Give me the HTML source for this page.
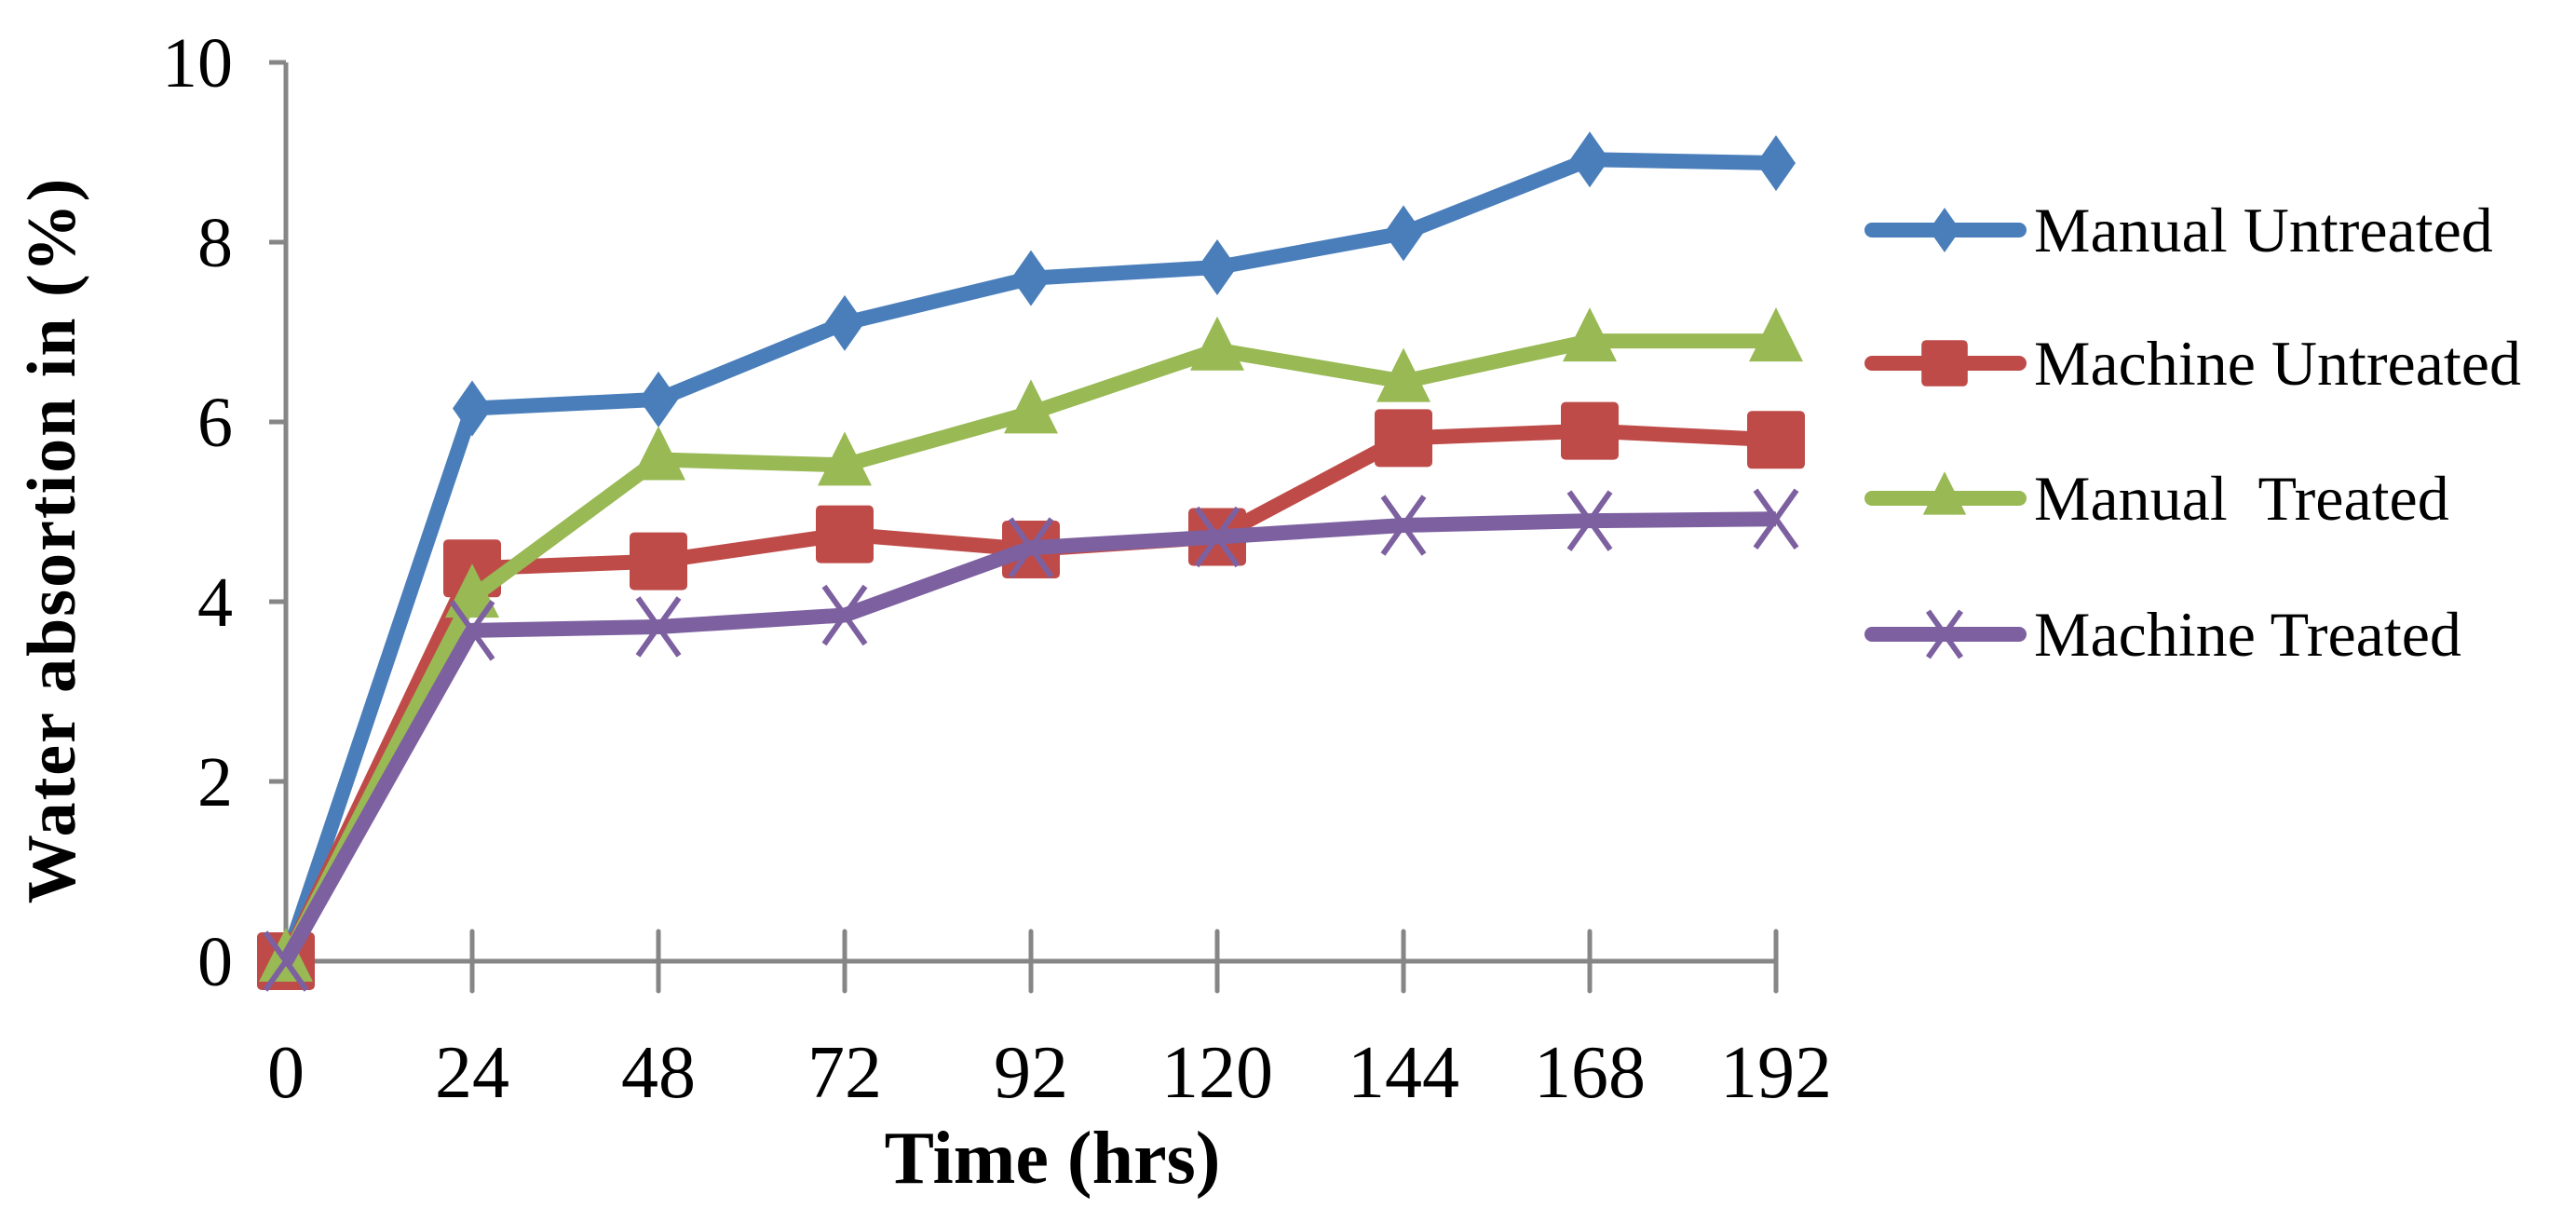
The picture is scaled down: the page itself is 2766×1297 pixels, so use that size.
<!DOCTYPE html>
<html><head><meta charset="utf-8"><style>
html,body{margin:0;padding:0;background:#fff;}
svg{display:block;font-family:"Liberation Serif",serif;}
</style></head><body>
<svg id="chart" width="2766" height="1297" viewBox="0 0 2766 1297">
<g id="axes"></g>
<g id="series"></g>
<g id="legend"></g>
<text x="80" y="580" font-size="74" font-weight="bold" text-anchor="middle" transform="rotate(-90 80 580)" letter-spacing="2">Water absortion in (%)</text>
<text x="1130" y="1270" font-size="80" font-weight="bold" text-anchor="middle">Time (hrs)</text>
</svg>
<script>
const categories = ["0","24","48","72","92","120","144","168","192"];
const yTicks = [0,2,4,6,8,10];
const seriesNames = ["Manual Untreated","Machine Untreated","Manual  Treated","Machine Treated"];
const manualUntreated = [0,6.15,6.25,7.1,7.6,7.72,8.1,8.92,8.88];
const machineUntreated = [0,4.37,4.45,4.75,4.58,4.72,5.82,5.9,5.8];
const manualTreated = [0,4.05,5.58,5.52,6.1,6.8,6.45,6.9,6.9];
const machineTreated = [0,3.68,3.72,3.85,4.6,4.72,4.85,4.9,4.92];

const NS="http://www.w3.org/2000/svg";
const X0=307, XSTEP=200, Y0=1032, YTOP=67, YMAX=10;
const xs=i=>X0+i*XSTEP;
const ys=v=>Y0-(v/YMAX)*(Y0-YTOP);
function mk(tag,attrs,parent){const e=document.createElementNS(NS,tag);for(const k in attrs)e.setAttribute(k,attrs[k]);parent.appendChild(e);return e;}
const axes=document.getElementById('axes');
const AX="#868686";
let e=mk('line',{x1:X0,y1:YTOP,x2:X0,y2:Y0,stroke:AX,'stroke-width':5},axes);


e=mk('line',{x1:X0,y1:Y0,x2:xs(categories.length-1),y2:Y0,stroke:AX,'stroke-width':5},axes);


yTicks.forEach(v=>{
  const y=ys(v);
  let t=mk('line',{x1:X0-18,y1:y,x2:X0,y2:y,stroke:AX,'stroke-width':5},axes);
  
  
  let l=mk('text',{x:250,y:y+26,'font-size':76,'text-anchor':'end'},axes);
  l.textContent=v;
  
  
});
categories.forEach((c,i)=>{
  const x=xs(i);
  if(i>0){let t=mk('line',{x1:x,y1:Y0-32,x2:x,y2:Y0+32,stroke:AX,'stroke-width':5,'stroke-linecap':'round'},axes);
  
  }
  let l=mk('text',{x:x,y:1178,'font-size':80,'text-anchor':'middle'},axes);
  l.textContent=c;
  
  
});
const colors=["#4a7ebb","#be4b48","#98b954","#7d60a0"];
const shapes=["diamond","square","triangle","x"];
const data=[manualUntreated,machineUntreated,manualTreated,machineTreated];
function marker(shape,x,y,col,parent,k){
  k=k||1;
  let m;
  if(shape==="diamond") m=mk('polygon',{points:`${x},${y-30*k} ${x+21*k},${y} ${x},${y+30*k} ${x-21*k},${y}`,fill:col},parent);
  else if(shape==="square") m=mk('rect',{x:x-31*k,y:y-31*k,width:62*k,height:62*k,rx:5,fill:col},parent);
  else if(shape==="triangle") m=mk('polygon',{points:`${x},${y-36*k} ${x+29*k},${y+22*k} ${x-29*k},${y+22*k}`,fill:col},parent);
  else m=mk('path',{d:`M${x-22*k},${y-31*k}L${x+22*k},${y+31*k}M${x+22*k},${y-31*k}L${x-22*k},${y+31*k}`,stroke:col,'stroke-width':6,fill:'none'},parent);
  return m;
}
const sg=document.getElementById('series');
data.forEach((vals,s)=>{
  const g=mk('g',{},sg);
  
  
  const p=mk('polyline',{points:vals.map((v,i)=>xs(i)+','+ys(v)).join(' '),fill:'none',stroke:colors[s],'stroke-width':16,'stroke-linejoin':'round'},g);
  
  
  vals.forEach((v,i)=>{
    const m=marker(shapes[s],xs(i),ys(v),colors[s],g);
    
    
  });
});
const lg=document.getElementById('legend');
const LY=[247,390,535,681];
seriesNames.forEach((n,s)=>{
  const g=mk('g',{},lg);
  
  
  mk('line',{x1:2010,y1:LY[s],x2:2168,y2:LY[s],stroke:colors[s],'stroke-width':16,'stroke-linecap':'round'},g);
  marker(shapes[s],2088,LY[s],colors[s],g,0.8);
  const t=mk('text',{x:2184,y:LY[s]+23,'font-size':68},g);
  t.textContent=n;
  t.setAttribute('xml:space','preserve');
  t.style.whiteSpace='pre';
});
</script>
</body></html>
